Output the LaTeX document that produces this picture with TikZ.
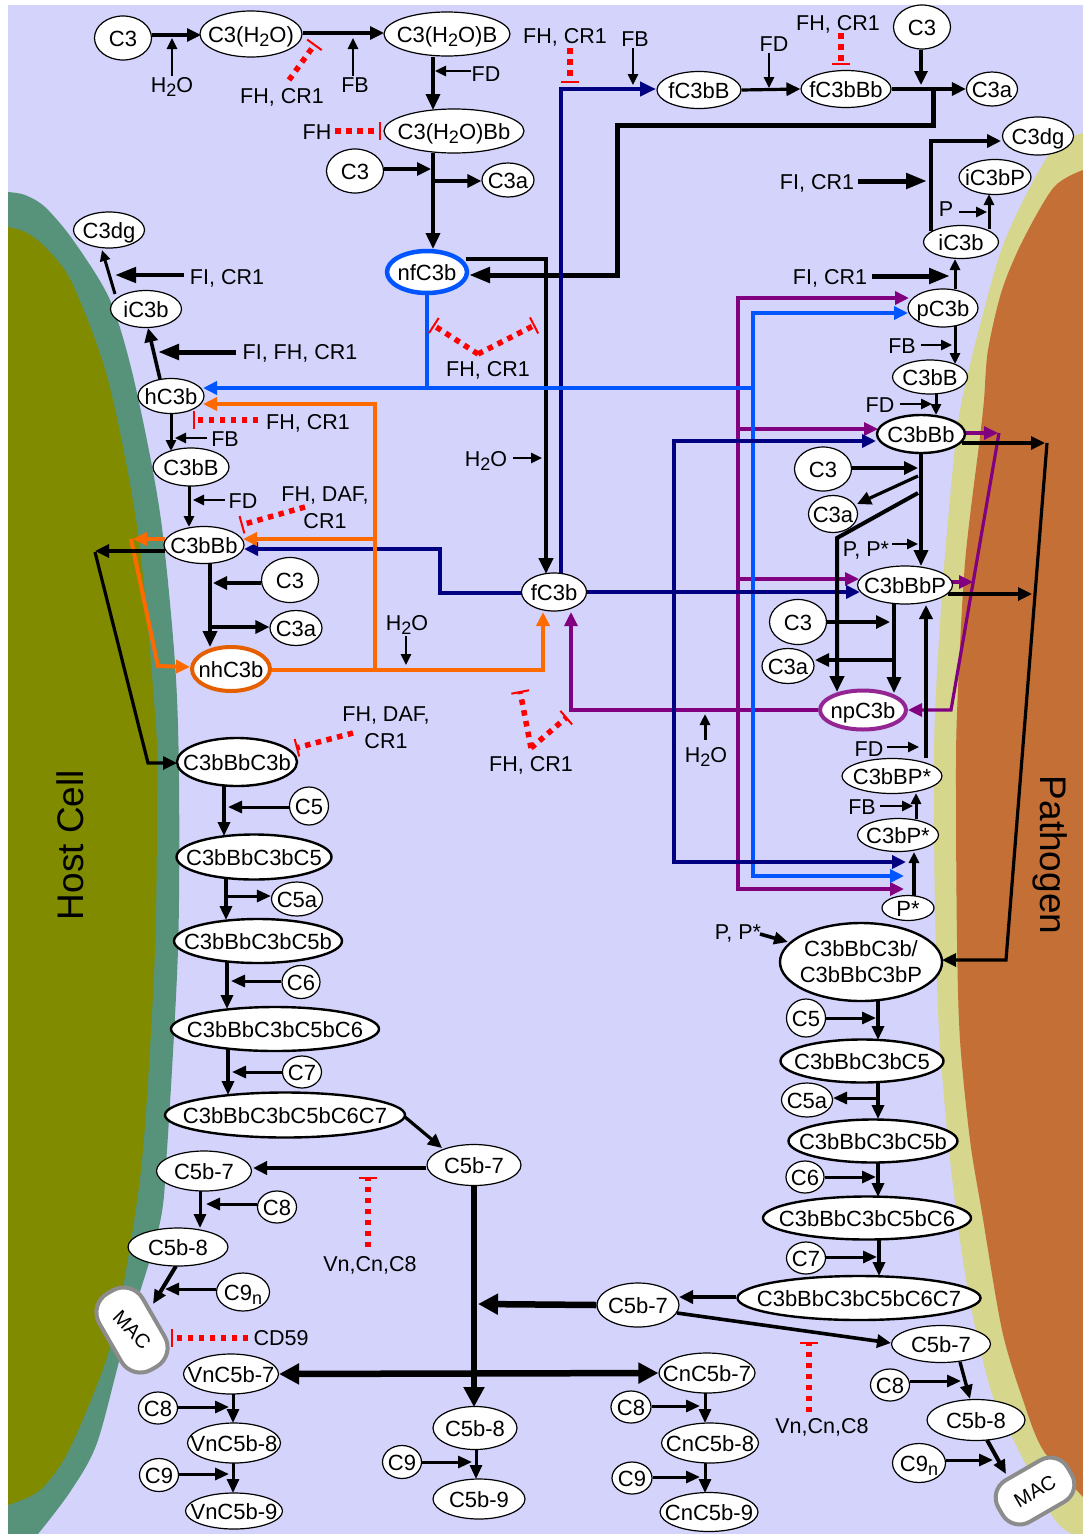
\documentclass[tikz,border=0pt]{standalone}
\usepackage{fontspec}
\setmainfont{Liberation Sans}
\usetikzlibrary{arrows.meta,shapes.geometric,backgrounds}
\definecolor{lav}{RGB}{211,211,251}
\definecolor{hostEdge}{RGB}{87,146,122}
\definecolor{hostCore}{RGB}{128,139,0}
\definecolor{pathEdge}{RGB}{214,214,140}
\definecolor{pathCore}{RGB}{195,111,53}
\definecolor{navyL}{RGB}{0,0,128}
\definecolor{blueL}{RGB}{0,85,255}
\definecolor{purpL}{RGB}{128,0,128}
\definecolor{orngL}{RGB}{255,106,0}
\definecolor{macGray}{RGB}{140,140,140}
\newcommand{\sbs}[1]{\raisebox{-4pt}{\fontsize{18}{18}\selectfont #1}}

\begin{document}
\begin{tikzpicture}[
  x=1pt,y=-1pt,
  mol/.style 2 args={ellipse,draw,fill=white,line width=1.2pt,inner sep=-100pt,minimum width=#1pt,minimum height=#2pt,font=\fontsize{22}{26}\selectfont,text height=16pt,text depth=0pt},
  hmol/.style 2 args={mol={#1}{#2},line width=2.4pt},
  lbl/.style={inner sep=0pt,font=\fontsize{21.5}{27}\selectfont,text height=16pt,text depth=0pt},
  lblm/.style={inner sep=0pt,font=\fontsize{21.5}{27}\selectfont,align=center},
  macbox/.style={rectangle,rounded corners=22pt,draw=macGray,line width=4pt,fill=white,minimum width=88pt,minimum height=50pt,inner sep=0pt,font=\fontsize{20}{24}\selectfont},
  arrS/.style={line width=2.5pt,-{Triangle[length=11pt,width=10pt]}},
  arrT/.style={line width=3pt,-{Triangle[length=14pt,width=12pt]}},
  arrM/.style={line width=3.2pt,-{Triangle[length=14pt,width=13pt]}},
  arrL/.style={line width=4pt,-{Triangle[length=16pt,width=14pt]}},
  arrH/.style={line width=5pt,-{Triangle[length=21pt,width=15pt]}},
  arrX/.style={line width=6.5pt,-{Triangle[length=20pt,width=20pt]}},
  inh/.style={draw=red,line width=5.5pt,dash pattern=on 5.5pt off 5.5pt,-{Bar[width=18pt,line width=2pt]}}
]
  \useasboundingbox (0,0) rectangle (1083,1534);

  \node[mol={57}{44}] (cThreeA) at (123,38) {C3};
  \node[mol={102}{46}] (cWater) at (251,34) {C3(H\sbs{2}O)};
  \node[mol={126}{44}] (cWaterB) at (447,34) {C3(H\sbs{2}O)B};
  \node[mol={140}{44}] (cWaterBb) at (454,131) {C3(H\sbs{2}O)Bb};
  \node[mol={57}{44}] (cThreeB) at (355,171) {C3};
  \node[mol={52}{34}] (cThrAA) at (508,180) {C3a};
  \node[mol={80}{42},draw=blueL,line width=4.5pt] (nfCb) at (427,272) {nfC3b};
  \node[mol={71}{36}] (dgL) at (109,230) {C3dg};
  \node[mol={71}{37}] (icbL) at (146,309) {iC3b};
  \node[mol={66}{35}] (hCb) at (171,396) {hC3b};
  \node[mol={76}{38}] (cbBL) at (191,467) {C3bB};
  \node[mol={80}{37}] (cbBbL) at (204,545) {C3bBb};
  \node[mol={57}{45}] (cThreeC) at (290,580) {C3};
  \node[mol={52}{35}] (cThrAB) at (296,628) {C3a};
  \node[mol={78}{44},draw=orngL!90!black,line width=4pt] (nhCb) at (231,669) {nhC3b};
  \node[mol={65}{38}] (fCb) at (554,592) {fC3b};
  \node[hmol={120}{48}] (bbcL) at (237,762) {C3bBbC3b};
  \node[mol={39}{38}] (cFiveL) at (309,806) {C5};
  \node[hmol={155}{45}] (cvL) at (254,857) {C3bBbC3bC5};
  \node[mol={51}{34}] (cFaL) at (297,899) {C5a};
  \node[hmol={168}{44}] (cvbL) at (258,941) {C3bBbC3bC5b};
  \node[mol={38}{33}] (cSixL) at (301,982) {C6};
  \node[hmol={208}{44}] (cvsL) at (275,1029) {C3bBbC3bC5bC6};
  \node[mol={39}{32}] (cSevL) at (302,1072) {C7};
  \node[hmol={240}{45}] (cvssL) at (285,1115) {C3bBbC3bC5bC6C7};
  \node[mol={95}{40}] (mcL) at (204,1171) {C5b-7};
  \node[mol={94}{41}] (mcC) at (474,1165) {C5b-7};
  \node[mol={39}{32}] (cEiL) at (277,1207) {C8};
  \node[mol={100}{38}] (meL) at (178,1247) {C5b-8};
  \node[mol={53}{38}] (cNnL) at (243,1292) {C9\sbs{n}};
  \node[macbox,rotate=-60] (macL) at (132,1330) {\rotatebox{14}{MAC}};
  \node[mol={95}{40}] (vnSev) at (231,1374) {VnC5b-7};
  \node[mol={39}{32}] (cEiV) at (158,1408) {C8};
  \node[mol={93}{40}] (vnEi) at (234,1443) {VnC5b-8};
  \node[mol={39}{33}] (cNiV) at (159,1475) {C9};
  \node[mol={97}{36}] (vnNi) at (234,1511) {VnC5b-9};
  \node[mol={84}{43}] (meC) at (475,1428) {C5b-8};
  \node[mol={39}{33}] (cNiC) at (402,1462) {C9};
  \node[mol={92}{40}] (mnC) at (479,1499) {C5b-9};
  \node[mol={82}{44}] (mcM) at (638,1305) {C5b-7};
  \node[mol={96}{40}] (cnSev) at (707,1373) {CnC5b-7};
  \node[mol={40}{32}] (cEiN) at (631,1407) {C8};
  \node[mol={97}{40}] (cnEi) at (710,1443) {CnC5b-8};
  \node[mol={40}{32}] (cNiN) at (632,1478) {C9};
  \node[mol={98}{39}] (cnNi) at (709,1512) {CnC5b-9};
  \node[hmol={163}{43}] (cvR) at (862,1061) {C3bBbC3bC5};
  \node[mol={51}{34}] (cFaR) at (807,1100) {C5a};
  \node[hmol={169}{43}] (cvbR) at (873,1141) {C3bBbC3bC5b};
  \node[mol={38}{32}] (cSixR) at (805,1177) {C6};
  \node[hmol={208}{43}] (cvsR) at (867,1218) {C3bBbC3bC5bC6};
  \node[mol={39}{32}] (cSevR) at (806,1258) {C7};
  \node[hmol={243}{44}] (cvssR) at (859,1298) {C3bBbC3bC5bC6C7};
  \node[mol={99}{37}] (mcR) at (941,1344) {C5b-7};
  \node[mol={39}{32}] (cEiR) at (890,1385) {C8};
  \node[mol={98}{41}] (meR) at (976,1420) {C5b-8};
  \node[mol={53}{39}] (cNnR) at (919,1463) {C9\sbs{n}};
  \node[macbox,rotate=30,minimum width=80pt,minimum height=48pt,rounded corners=20pt] (macR) at (1035,1491) {MAC};
  \node[hmol={162}{78},align=center,text height=,text depth=] (bbcR) at (861,962) {C3bBbC3b/\\C3bBbC3bP};
  \node[mol={39}{38}] (cFiveR) at (806,1018) {C5};
  \node[mol={52}{25}] (pStar) at (908,908) {P*};
  \node[mol={81}{33}] (cbP) at (898,835) {C3bP*};
  \node[mol={100}{35}] (cbBP) at (892,776) {C3bBP*};
  \node[mol={86}{39},draw=purpL!85!white,line width=4pt] (npCb) at (863,710) {npC3b};
  \node[mol={52}{35}] (cThrAD) at (788,666) {C3a};
  \node[mol={57}{45}] (cThreeE) at (798,622) {C3};
  \node[mol={95}{38}] (cbBbP) at (905,585) {C3bBbP};
  \node[mol={49}{37}] (cThrAC) at (833,514) {C3a};
  \node[mol={57}{44}] (cThreeD) at (823,469) {C3};
  \node[hmol={88}{38}] (cbBbR) at (921,434) {C3bBb};
  \node[mol={75}{34}] (cbBR) at (930,377) {C3bB};
  \node[mol={70}{38}] (pCb) at (943,308) {pC3b};
  \node[mol={75}{33}] (icbR) at (961,242) {iC3b};
  \node[mol={72}{35}] (icbP) at (995,177) {iC3bP};
  \node[mol={71}{38}] (dgR) at (1038,136) {C3dg};
  \node[mol={51}{34}] (cThrAE) at (992,89) {C3a};
  \node[mol={57}{44}] (cThreeF) at (922,27) {C3};
  \node[mol={90}{37}] (fBb) at (846,89) {fC3bBb};
  \node[mol={84}{37}] (fB) at (699,90) {fC3bB};

  \node[lbl] (waterA) at (172,84) {H\sbs{2}O};
  \node[lbl] (fbA) at (355,84) {FB};
  \node[lbl] (fhA) at (282,95) {FH, CR1};
  \node[lbl] (fdA) at (486,73) {FD};
  \node[lbl] (fhB) at (317,131) {FH};
  \node[lbl] (fhC) at (565,35) {FH, CR1};
  \node[lbl] (fbB) at (635,38) {FB};
  \node[lbl] (fdB) at (774,43) {FD};
  \node[lbl] (fhD) at (838,22) {FH, CR1};
  \node[lbl] (fiA) at (817,181) {FI, CR1};
  \node[lbl] (pA) at (946,208) {P};
  \node[lbl] (fiB) at (830,276) {FI, CR1};
  \node[lbl] (fbC) at (902,345) {FB};
  \node[lbl] (fhE) at (488,368) {FH, CR1};
  \node[lbl] (fiC) at (227,276) {FI, CR1};
  \node[lbl] (fiD) at (300,351) {FI, FH, CR1};
  \node[lbl] (fbD) at (225,438) {FB};
  \node[lbl] (fhF) at (308,421) {FH, CR1};
  \node[lbl] (fdC) at (243,500) {FD};
  \node[lbl] (waterB) at (486,458) {H\sbs{2}O};
  \node[lblm] (fhG) at (325,508) {FH, DAF,\\CR1};
  \node[lbl] (waterC) at (407,622) {H\sbs{2}O};
  \node[lblm] (fhH) at (386,728) {FH, DAF,\\CR1};
  \node[lbl] (fhI) at (531,763) {FH, CR1};
  \node[lbl] (waterD) at (706,754) {H\sbs{2}O};
  \node[lbl] (fdD) at (880,404) {FD};
  \node[lbl] (pB) at (866,548) {P, P*};
  \node[lbl] (fdE) at (869,748) {FD};
  \node[lbl] (fbE) at (862,806) {FB};
  \node[lbl] (pC) at (738,931) {P, P*};
  \node[lbl] (vnA) at (370,1263) {Vn,Cn,C8};
  \node[lbl] (cdA) at (281,1337) {CD59};
  \node[lbl] (vnB) at (822,1425) {Vn,Cn,C8};
  \node[rotate=90,inner sep=0pt,font=\fontsize{37}{40}\selectfont] (hostL) at (70,845) {Host Cell};
  \node[rotate=-90,inner sep=0pt,font=\fontsize{37}{40}\selectfont] (pathL) at (1050,855) {Pathogen};

  \coordinate (tCw) at (201,35);
  \coordinate (tWa) at (172,38);
  \coordinate (tWb) at (384,33);
  \coordinate (tFbA) at (353,38);
  \coordinate (bFhA) at (289,80);
  \coordinate (eFhA) at (315,44);
  \coordinate (tFdA) at (435,71);
  \coordinate (tBb) at (433,110);
  \coordinate (sBb) at (433,153);
  \coordinate (tNf) at (433,249);
  \coordinate (tCb) at (431,169);
  \coordinate (sAa) at (433,181);
  \coordinate (sFhB) at (335,131);
  \coordinate (eFhB) at (381,131);
  \coordinate (sNfA) at (466,259);
  \coordinate (cNfA) at (546,259);
  \coordinate (tFcA) at (546,574);
  \coordinate (tWaterB) at (542,458);
  \coordinate (sBack) at (933,89);
  \coordinate (cBackA) at (933,125);
  \coordinate (cBackB) at (617,125);
  \coordinate (cBackC) at (617,275);
  \coordinate (tBack) at (469,275);
  \coordinate (sFn) at (561,574);
  \coordinate (cFn) at (561,89);
  \coordinate (tFn) at (656,89);
  \coordinate (sFhC) at (570,48);
  \coordinate (eFhC) at (570,83);
  \coordinate (tFbB) at (633,85);
  \coordinate (tFdB) at (769,88);
  \coordinate (sFhD) at (841,33);
  \coordinate (eFhD) at (841,65);
  \coordinate (tCf) at (921,85);
  \coordinate (sDg) at (931,231);
  \coordinate (cDg) at (931,141);
  \coordinate (tDg) at (1001,141);
  \coordinate (tFiA) at (927,181);
  \coordinate (sIp) at (989,229);
  \coordinate (tIp) at (989,194);
  \coordinate (tPa) at (987,212);
  \coordinate (sPi) at (955,289);
  \coordinate (tPi) at (955,259);
  \coordinate (tFiB) at (950,276);
  \coordinate (sPb) at (955,326);
  \coordinate (tPb) at (955,364);
  \coordinate (tFbC) at (952,345);
  \coordinate (cPuA) at (738,298);
  \coordinate (tPuA) at (909,298);
  \coordinate (cPuB) at (738,889);
  \coordinate (tPuB) at (904,889);
  \coordinate (sPuC) at (738,429);
  \coordinate (tPuC) at (878,429);
  \coordinate (sPuD) at (738,579);
  \coordinate (tPuD) at (859,579);
  \coordinate (cPuE) at (571,710);
  \coordinate (tPuE) at (571,612);
  \coordinate (sPuF) at (965,433);
  \coordinate (tPuF) at (998,433);
  \coordinate (sPuG) at (952,582);
  \coordinate (tPuG) at (973,582);
  \coordinate (cPuH) at (999,433);
  \coordinate (cPuI) at (951,710);
  \coordinate (sBlA) at (427,293);
  \coordinate (cBlA) at (427,388);
  \coordinate (tBlA) at (203,388);
  \coordinate (cBlB) at (753,388);
  \coordinate (cBlC) at (753,313);
  \coordinate (tBlC) at (908,313);
  \coordinate (cBlD) at (753,876);
  \coordinate (tBlD) at (904,876);
  \coordinate (vFhE) at (478,354);
  \coordinate (eFhEa) at (433,325);
  \coordinate (eFhEb) at (535,325);
  \coordinate (sNaA) at (587,592);
  \coordinate (tNaA) at (860,592);
  \coordinate (cNaB) at (674,441);
  \coordinate (tNaB) at (876,441);
  \coordinate (cNaC) at (674,862);
  \coordinate (tNaC) at (906,862);
  \coordinate (sNaD) at (523,593);
  \coordinate (cNaD) at (440,593);
  \coordinate (cNaE) at (440,549);
  \coordinate (tNaE) at (244,549);
  \coordinate (cOrA) at (543,670);
  \coordinate (tOrA) at (543,612);
  \coordinate (sOrB) at (270,670);
  \coordinate (jOrB) at (375,670);
  \coordinate (cOrB) at (375,404);
  \coordinate (tOrB) at (203,404);
  \coordinate (jOrC) at (375,539);
  \coordinate (tOrC) at (243,539);
  \coordinate (sOrD) at (165,539);
  \coordinate (tOrD) at (133,539);
  \coordinate (cOrE) at (131,539);
  \coordinate (cOrF) at (158,666);
  \coordinate (tOrF) at (190,667);
  \coordinate (sBkA) at (165,551);
  \coordinate (tBkA) at (95,551);
  \coordinate (cBkB) at (95,552);
  \coordinate (cBkC) at (148,763);
  \coordinate (tBkC) at (177,763);
  \coordinate (sHi) at (160,379);
  \coordinate (tHi) at (148,328);
  \coordinate (sId) at (115,294);
  \coordinate (tId) at (102,250);
  \coordinate (tFiC) at (115,275);
  \coordinate (tFiD) at (158,352);
  \coordinate (sHb) at (171,412);
  \coordinate (tHb) at (171,451);
  \coordinate (tFbD) at (175,438);
  \coordinate (sFhF) at (258,420);
  \coordinate (eFhF) at (193,420);
  \coordinate (sBbL) at (189,485);
  \coordinate (tBbL) at (189,527);
  \coordinate (tFdC) at (193,500);
  \coordinate (sCn) at (210,560);
  \coordinate (tCn) at (210,647);
  \coordinate (tCc) at (213,583);
  \coordinate (sCa) at (210,627);
  \coordinate (tWaterC) at (406,665);
  \coordinate (sFhG) at (305,507);
  \coordinate (eFhG) at (241,525);
  \coordinate (sFhH) at (353,733);
  \coordinate (eFhH) at (296,748);
  \coordinate (vFhI) at (531,748);
  \coordinate (eFhIa) at (520,691);
  \coordinate (eFhIb) at (567,717);
  \coordinate (tWaterD) at (705,714);
  \coordinate (sTopR) at (936,392);
  \coordinate (tTopR) at (936,415);
  \coordinate (tFdD) at (932,404);
  \coordinate (sBkD) at (962,443);
  \coordinate (tBkD) at (1045,443);
  \coordinate (cBkE) at (1047,443);
  \coordinate (cBkF) at (1006,960);
  \coordinate (tBkF) at (942,960);
  \coordinate (sBkG) at (948,594);
  \coordinate (tBkG) at (1032,594);
  \coordinate (sDn) at (921,453);
  \coordinate (tDn) at (921,566);
  \coordinate (tCd) at (918,468);
  \coordinate (sCaD) at (918,476);
  \coordinate (tCaD) at (857,504);
  \coordinate (sPoly) at (918,493);
  \coordinate (cPoly) at (837,538);
  \coordinate (tPoly) at (837,692);
  \coordinate (tPbb) at (918,544);
  \coordinate (sPn) at (894,604);
  \coordinate (tPn) at (894,693);
  \coordinate (tCe) at (890,622);
  \coordinate (sCaE) at (893,660);
  \coordinate (tCaE) at (815,660);
  \coordinate (sUp) at (926,758);
  \coordinate (tUp) at (926,605);
  \coordinate (tFdE) at (919,747);
  \coordinate (sUpB) at (916,819);
  \coordinate (tUpB) at (916,793);
  \coordinate (tFbE) at (913,806);
  \coordinate (sUpC) at (914,896);
  \coordinate (tUpC) at (914,852);
  \coordinate (sPc) at (760,934);
  \coordinate (tPc) at (788,942);
  \coordinate (sR) at (878,1001);
  \coordinate (tR) at (878,1040);
  \coordinate (tFr) at (876,1018);
  \coordinate (sRb) at (878,1083);
  \coordinate (tRb) at (878,1119);
  \coordinate (tFar) at (833,1098);
  \coordinate (sRc) at (878,1162);
  \coordinate (tRc) at (878,1197);
  \coordinate (tSr) at (876,1177);
  \coordinate (sRd) at (879,1240);
  \coordinate (tRd) at (879,1276);
  \coordinate (tSv) at (877,1257);
  \coordinate (tMm) at (679,1297);
  \coordinate (sMr) at (677,1313);
  \coordinate (tMr) at (891,1343);
  \coordinate (sFhJ) at (809,1412);
  \coordinate (eFhJ) at (809,1342);
  \coordinate (sMe) at (960,1362);
  \coordinate (tMe) at (970,1399);
  \coordinate (tEr) at (961,1381);
  \coordinate (sMa) at (987,1440);
  \coordinate (tMa) at (1006,1474);
  \coordinate (tNr) at (993,1460);
  \coordinate (tTr) at (478,1304);
  \coordinate (sTv) at (474,1185);
  \coordinate (tTv) at (474,1407);
  \coordinate (sDia) at (405,1117);
  \coordinate (tDia) at (442,1148);
  \coordinate (tMl) at (253,1168);
  \coordinate (sFhK) at (368,1247);
  \coordinate (eFhK) at (368,1177);
  \coordinate (sLe) at (200,1190);
  \coordinate (tLe) at (200,1228);
  \coordinate (tEl) at (206,1204);
  \coordinate (sLa) at (176,1266);
  \coordinate (tLa) at (153,1304);
  \coordinate (tNl) at (165,1289);
  \coordinate (sFhL) at (248,1338);
  \coordinate (eFhL) at (171,1338);
  \coordinate (sVa) at (233,1393);
  \coordinate (tVa) at (233,1423);
  \coordinate (tEv) at (229,1407);
  \coordinate (sVb) at (233,1462);
  \coordinate (tVb) at (233,1493);
  \coordinate (tNv) at (229,1474);
  \coordinate (sCm) at (476,1449);
  \coordinate (tCm) at (476,1479);
  \coordinate (tNc) at (472,1462);
  \coordinate (sNa) at (705,1392);
  \coordinate (tNa) at (705,1423);
  \coordinate (tEn) at (700,1406);
  \coordinate (sNb) at (705,1462);
  \coordinate (tNb) at (705,1493);
  \coordinate (tNn) at (700,1477);
  \coordinate (sCvA) at (224,785);
  \coordinate (tCvA) at (224,836);
  \coordinate (tCfl) at (228,807);
  \coordinate (sCvB) at (226,878);
  \coordinate (tCvB) at (226,920);
  \coordinate (sCvC) at (227,961);
  \coordinate (tCvC) at (227,1009);
  \coordinate (tCsl) at (231,981);
  \coordinate (sCvD) at (228,1049);
  \coordinate (tCvD) at (228,1095);
  \coordinate (tCgl) at (232,1072);
  \coordinate (sCal) at (226,896);

  \begin{scope}[on background layer]
  \fill[white] (0,0) rectangle (1083,1534);
  \fill[lav] (8,5) rectangle (1083,1534);
  \fill[hostEdge] plot[smooth] coordinates {(8,192) (25,195) (45,207) (73,240) (110,300) (134,380) (160,513) (175,663) (179,780) (178,950) (167,1150) (159,1227) (124,1343) (97,1443) (70,1492) (38,1534)} -- (8,1534) -- cycle;
  \fill[hostCore] plot[smooth] coordinates {(8,227) (25,232) (45,247) (72,283) (108,380) (138,533) (155,713) (157,780) (155,950) (143,1150) (126,1270) (107,1357) (69,1450) (40,1490) (8,1505)} -- cycle;
  \fill[pathEdge] plot[smooth] coordinates {(1083,133) (1050,153) (1005,240) (978,333) (962,400) (955,447) (943,580) (935,713) (934,800) (935,907) (939,1030) (948,1140) (960,1240) (973,1317) (993,1397) (1017,1447) (1053,1517) (1072,1534)} -- (1083,1534) -- cycle;
  \fill[pathCore] plot[smooth] coordinates {(1083,170) (1054,187) (1023,240) (1002,290) (988,350) (984,400) (980,437) (965,563) (957,713) (956,800) (957,940) (960,1040) (970,1140) (982,1213) (1002,1330) (1023,1400) (1043,1450) (1083,1497)} -- cycle;

  \draw[arrM] (cThreeA.east |- tCw) -- (tCw);
  \draw[arrS] (waterA.north -| tWa) -- (tWa);
  \draw[arrM] (cWater.east |- tWb) -- (tWb);
  \draw[arrS] (fbA.north -| tFbA) -- (tFbA);
  \draw[inh] (bFhA) -- (eFhA);
  \draw[arrS] (fdA.west |- tFdA) -- (tFdA);
  \draw[arrL,line width=3.6pt] (cWaterB.south -| tBb) -- (tBb);
  \draw[arrL,line width=3.6pt] (sBb) -- (tNf);
  \draw[arrM] (cThreeB.east |- tCb) -- (tCb);
  \draw[arrM] (sAa) -- (cThrAA.west |- sAa);
  \draw[inh] (sFhB) -- (eFhB);
  \draw[arrL,line width=4.5pt] (sNfA) -- (cNfA) -- (tFcA);
  \draw[arrS] (waterB.east |- tWaterB) ++(6,0) -- (tWaterB);
  \draw[arrH] (sBack) -- (cBackA) -- (cBackB) -- (cBackC) -- (tBack);
  \draw[arrL,draw=navyL] (sFn) -- (cFn) -- (tFn);
  \draw[inh] (sFhC) -- (eFhC);
  \draw[arrS] (fbB.south -| tFbB) ++(0,2) -- (tFbB);
  \draw[arrM] (fB.east) -- (fBb.west);
  \draw[arrS] (fdB.south -| tFdB) ++(0,2) -- (tFdB);
  \draw[inh] (sFhD) -- (eFhD);
  \draw[arrM] (cThreeF.south -| tCf) -- (tCf);
  \draw[arrM] (fBb.east) -- (cThrAE.west);
  \draw[arrM,line width=3.6pt] (sDg) -- (cDg) -- (tDg);
  \draw[arrH] (fiA.east |- tFiA) ++(4,0) -- (tFiA);
  \draw[arrS,line width=3pt] (sIp) -- (tIp);
  \draw[arrS] (pA.east |- tPa) ++(6,0) -- (tPa);
  \draw[arrS,line width=3pt] (sPi) -- (tPi);
  \draw[arrH] (fiB.east |- tFiB) ++(5,0) -- (tFiB);
  \draw[arrS,line width=3pt] (sPb) -- (tPb);
  \draw[arrS] (fbC.east |- tFbC) ++(5,0) -- (tFbC);
  \draw[arrM,draw=purpL,line width=4pt] (cPuB) -- (cPuA) -- (tPuA);
  \draw[arrM,draw=purpL,line width=4pt] (cPuA) -- (cPuB) -- (tPuB);
  \draw[arrM,draw=purpL] (sPuC) -- (tPuC);
  \draw[arrM,draw=purpL] (sPuD) -- (tPuD);
  \draw[arrM,draw=purpL] (npCb.west) -- (cPuE) -- (tPuE);
  \draw[arrM,draw=purpL] (sPuF) -- (tPuF);
  \draw[arrM,draw=purpL] (sPuG) -- (tPuG);
  \draw[arrM,draw=purpL] (cPuH) -- (cPuI) -- (npCb.east);
  \draw[arrM,draw=blueL,line width=3.5pt] (cBlB) -- (tBlA);
  \draw[draw=blueL,line width=3.5pt] (sBlA) -- (cBlA);
  \draw[arrM,draw=blueL,line width=3.5pt] (cBlD) -- (cBlC) -- (tBlC);
  \draw[arrM,draw=blueL,line width=3.5pt] (cBlC) -- (cBlD) -- (tBlD);
  \draw[inh] (vFhE) -- (eFhEa);
  \draw[inh] (vFhE) -- (eFhEb);
  \draw[arrM,draw=navyL,line width=4pt] (sNaA) -- (tNaA);
  \draw[arrM,draw=navyL,line width=4pt] (cNaC) -- (cNaB) -- (tNaB);
  \draw[arrM,draw=navyL,line width=4pt] (cNaB) -- (cNaC) -- (tNaC);
  \draw[arrM,draw=navyL,line width=4pt] (sNaD) -- (cNaD) -- (cNaE) -- (tNaE);
  \draw[arrM,draw=orngL,line width=4pt] (sOrB) -- (cOrA) -- (tOrA);
  \draw[arrM,draw=orngL,line width=4pt] (jOrB) -- (cOrB) -- (tOrB);
  \draw[arrM,draw=orngL,line width=4pt] (jOrC) -- (tOrC);
  \draw[arrM,draw=orngL,line width=4pt] (sOrD) -- (tOrD);
  \draw[arrM,draw=orngL,line width=4pt] (cOrE) -- (cOrF) -- (tOrF);
  \draw[arrM] (sBkA) -- (tBkA);
  \draw[arrM] (cBkB) -- (cBkC) -- (tBkC);
  \draw[arrM,line width=3.6pt] (sHi) -- (tHi);
  \draw[arrS,line width=3pt] (sId) -- (tId);
  \draw[arrH,line width=4.5pt] (fiC.west |- tFiC) ++(-6,0) -- (tFiC);
  \draw[arrH] (fiD.west |- tFiD) ++(-6,0) -- (tFiD);
  \draw[arrS,line width=3pt] (sHb) -- (tHb);
  \draw[arrS] (fbD.west |- tFbD) ++(-4,0) -- (tFbD);
  \draw[inh] (sFhF) -- (eFhF);
  \draw[arrS,line width=3pt] (sBbL) -- (tBbL);
  \draw[arrS] (fdC.west |- tFdC) ++(-3,0) -- (tFdC);
  \draw[arrL,line width=3.6pt] (sCn) -- (tCn);
  \draw[arrM] (cThreeC.west |- tCc) -- (tCc);
  \draw[arrM] (sCa) -- (cThrAB.west |- sCa);
  \draw[arrS] (waterC.south -| tWaterC) ++(0,6) -- (tWaterC);
  \draw[inh] (sFhG) -- (eFhG);
  \draw[inh] (sFhH) -- (eFhH);
  \draw[inh] (vFhI) -- (eFhIa);
  \draw[inh] (vFhI) -- (eFhIb);
  \draw[arrS,line width=3pt] (waterD.north -| tWaterD) ++(0,-6) -- (tWaterD);
  \draw[arrS] (fdD.east |- tFdD) ++(5,0) -- (tFdD);
  \draw[arrS,line width=3pt] (sTopR) -- (tTopR);
  \draw[arrM] (sBkD) -- (tBkD);
  \draw[arrM] (cBkE) -- (cBkF) -- (tBkF);
  \draw[arrM] (sBkG) -- (tBkG);
  \draw[arrL,line width=3.6pt] (sDn) -- (tDn);
  \draw[arrM] (cThreeD.east |- tCd) -- (tCd);
  \draw[arrM] (sCaD) -- (tCaD);
  \draw[arrL] (sPoly) -- (cPoly) -- (tPoly);
  \draw[arrS] (pB.east |- tPbb) ++(3,0) -- (tPbb);
  \draw[arrL,line width=3.6pt] (sPn) -- (tPn);
  \draw[arrM] (cThreeE.east |- tCe) -- (tCe);
  \draw[arrM] (sCaE) -- (tCaE);
  \draw[arrM,line width=3.6pt] (sUp) -- (tUp);
  \draw[arrS] (fdE.east |- tFdE) ++(3,0) -- (tFdE);
  \draw[arrS,line width=3pt] (sUpB) -- (tUpB);
  \draw[arrS] (fbE.east |- tFbE) ++(4,0) -- (tFbE);
  \draw[arrS,line width=3.2pt] (sUpC) -- (tUpC);
  \draw[arrT,line width=3.6pt] (sPc) -- (tPc);
  \draw[arrT,line width=3.4pt] (sR) -- (tR);
  \draw[arrT] (cFiveR.east |- tFr) -- (tFr);
  \draw[arrT,line width=3.4pt] (sRb) -- (tRb);
  \draw[arrT] (sRb |- tFar) -- (tFar);
  \draw[arrT,line width=3.4pt] (sRc) -- (tRc);
  \draw[arrT] (cSixR.east |- tSr) -- (tSr);
  \draw[arrT,line width=3.4pt] (sRd) -- (tRd);
  \draw[arrT] (cSevR.east |- tSv) -- (tSv);
  \draw[arrM,line width=3.6pt] (cvssR.west |- tMm) -- (tMm);
  \draw[arrM,line width=3.6pt] (sMr) -- (tMr);
  \draw[inh] (sFhJ) -- (eFhJ);
  \draw[arrT,line width=3.4pt] (sMe) -- (tMe);
  \draw[arrT] (cEiR.east |- tEr) -- (tEr);
  \draw[arrT,line width=4pt] (sMa) -- (tMa);
  \draw[arrT] (cNnR.east |- tNr) -- (tNr);
  \draw[arrX] (mcM.west) -- (tTr);
  \draw[arrX] (sTv) -- (tTv);
  \draw[{Triangle[length=20pt,width=20pt]}-{Triangle[length=20pt,width=20pt]},line width=6.5pt] (vnSev.east) -- (cnSev.west);
  \draw[arrM] (sDia) -- (tDia);
  \draw[arrM,line width=3.6pt] (mcC.west |- tMl) -- (tMl);
  \draw[inh] (sFhK) -- (eFhK);
  \draw[arrT] (sLe) -- (tLe);
  \draw[arrT] (cEiL.west |- tEl) -- (tEl);
  \draw[arrT,line width=4pt] (sLa) -- (tLa);
  \draw[arrT] (cNnL.west |- tNl) -- (tNl);
  \draw[inh] (sFhL) -- (eFhL);
  \draw[arrT] (sVa) -- (tVa);
  \draw[arrT] (cEiV.east |- tEv) -- (tEv);
  \draw[arrT] (sVb) -- (tVb);
  \draw[arrT] (cNiV.east |- tNv) -- (tNv);
  \draw[arrT] (sCm) -- (tCm);
  \draw[arrT] (cNiC.east |- tNc) -- (tNc);
  \draw[arrT] (sNa) -- (tNa);
  \draw[arrT] (cEiN.east |- tEn) -- (tEn);
  \draw[arrT] (sNb) -- (tNb);
  \draw[arrT] (cNiN.east |- tNn) -- (tNn);
  \draw[arrT,line width=3.4pt] (sCvA) -- (tCvA);
  \draw[arrT] (cFiveL.west |- tCfl) -- (tCfl);
  \draw[arrT,line width=3.4pt] (sCvB) -- (tCvB);
  \draw[arrT] (sCal) -- (cFaL.west |- sCal);
  \draw[arrT,line width=3.4pt] (sCvC) -- (tCvC);
  \draw[arrT] (cSixL.west |- tCsl) -- (tCsl);
  \draw[arrT,line width=3.4pt] (sCvD) -- (tCvD);
  \draw[arrT] (cSevL.west |- tCgl) -- (tCgl);
  \end{scope}
\end{tikzpicture}
\end{document}
